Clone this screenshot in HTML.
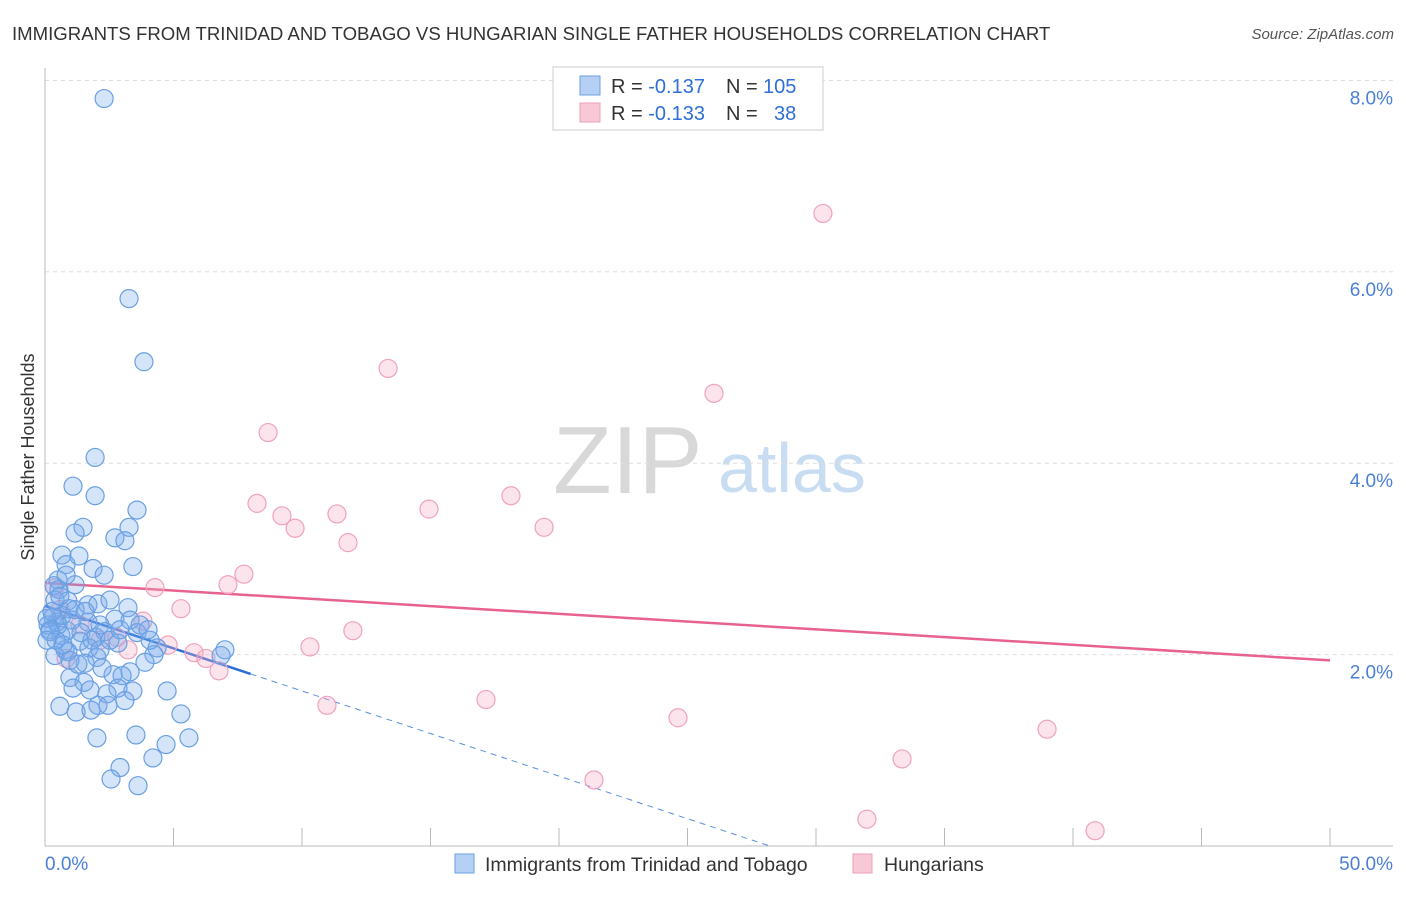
<!DOCTYPE html>
<html><head><meta charset="utf-8"><style>
body{margin:0;background:#fff;font-family:"Liberation Sans",sans-serif}
svg text{font-family:"Liberation Sans",sans-serif}
</style></head><body>
<svg id="chart" width="1406" height="892" viewBox="0 0 1406 892">
<text x="12" y="40" font-size="18.6" fill="#333">IMMIGRANTS FROM TRINIDAD AND TOBAGO VS HUNGARIAN SINGLE FATHER HOUSEHOLDS CORRELATION CHART</text>
<text x="1394" y="39" font-size="15" fill="#555" font-style="italic" text-anchor="end">Source: ZipAtlas.com</text>
<text x="34" y="457" font-size="18" fill="#333" text-anchor="middle" transform="rotate(-90 34 457)">Single Father Households</text>
<g>
<text x="553" y="493" font-size="96" fill="#d8d8d8" font-family="Liberation Serif">ZIP</text>
<text x="718" y="492" font-size="70" fill="#c8dcf2">atlas</text>
</g>
<g id="grid"></g><g id="axes"></g><g id="lines"></g><g id="dots"></g>
<g>
<rect x="553" y="67" width="270" height="63" fill="#fff" stroke="#ccc"/>
<rect x="580" y="76" width="20" height="19" fill="#b5d0f4" stroke="#6a9fe0"/>
<rect x="580" y="103" width="20" height="19" fill="#f9c8d6" stroke="#ef9fb8"/>
<text x="611" y="93" font-size="20" fill="#333">R = <tspan fill="#2f6fd8">-0.137</tspan></text>
<text x="726" y="93" font-size="20" fill="#333">N = <tspan fill="#2f6fd8" x="763">105</tspan></text>
<text x="611" y="120" font-size="20" fill="#333">R = <tspan fill="#2f6fd8">-0.133</tspan></text>
<text x="726" y="120" font-size="20" fill="#333">N = <tspan fill="#2f6fd8" x="774">38</tspan></text>
</g>
<g>
<rect x="455" y="854" width="19" height="19" fill="#b5d0f4" stroke="#6a9fe0"/>
<text x="485" y="871" font-size="19.5" fill="#333">Immigrants from Trinidad and Tobago</text>
<rect x="853" y="854" width="19" height="19" fill="#f9c8d6" stroke="#ef9fb8"/>
<text x="884" y="871" font-size="19.5" fill="#333">Hungarians</text>
</g>
</svg>
<script>
const blueX=[2.30,3.27,3.85,1.95,1.09,1.95,3.58,1.48,1.17,3.27,2.72,3.11,0.66,1.32,0.82,1.87,3.42,2.30,0.51,1.17,0.54,0.35,0.89,1.67,2.06,0.93,3.23,0.31,2.72,0.47,0.12,1.67,0.86,1.40,3.58,1.98,0.62,1.36,2.84,0.78,0.89,1.71,4.36,4.24,7.00,6.85,0.39,2.02,1.56,3.89,3.31,2.65,3.00,0.97,1.52,1.09,1.75,2.84,3.42,4.75,2.41,0.58,2.06,1.21,3.11,2.45,1.79,5.29,2.02,3.54,5.60,4.71,4.20,2.92,2.57,3.62,0.51,0.19,0.66,1.05,2.14,2.33,2.53,0.08,0.27,0.43,0.70,1.17,1.56,1.83,2.92,3.31,3.70,0.82,2.53,0.19,0.08,0.39,0.58,0.97,1.28,2.14,2.22,4.09,4.01];
const blueY=[7.81,5.72,5.06,4.06,3.76,3.66,3.51,3.33,3.27,3.33,3.22,3.19,3.04,3.03,2.94,2.90,2.92,2.83,2.78,2.73,2.68,2.72,2.56,2.52,2.53,2.48,2.49,2.39,2.37,2.34,2.31,2.34,2.25,2.23,2.23,2.18,2.20,2.14,2.12,2.05,2.03,2.07,2.07,2.00,2.05,1.99,1.99,1.97,1.91,1.92,1.82,1.79,1.78,1.76,1.71,1.65,1.63,1.65,1.62,1.62,1.59,1.46,1.47,1.40,1.52,1.47,1.42,1.38,1.13,1.16,1.13,1.06,0.92,0.82,0.70,0.63,2.31,2.26,2.41,2.36,2.31,2.24,2.15,2.38,2.45,2.15,2.10,2.47,2.45,2.15,2.26,2.36,2.31,2.83,2.57,2.24,2.15,2.57,2.61,1.94,1.90,2.05,1.86,2.15,2.26];
const pinkX=[30.27,13.35,26.03,8.68,18.13,8.25,9.22,14.94,11.36,9.73,19.42,11.79,7.74,7.12,4.28,0.39,5.29,3.81,11.98,2.80,10.31,4.79,5.80,3.23,6.26,6.77,0.82,2.14,10.97,17.16,24.63,38.99,33.35,21.36,31.98,40.86,0.58,1.36];
const pinkY=[6.61,4.99,4.73,4.32,3.66,3.58,3.45,3.52,3.47,3.32,3.33,3.17,2.84,2.73,2.70,2.70,2.48,2.35,2.25,2.18,2.08,2.10,2.02,2.05,1.96,1.83,1.96,2.15,1.47,1.53,1.34,1.22,0.91,0.69,0.28,0.16,2.47,2.31];
const yTicks=[2,4,6,8];
const yTickLabels=["2.0%","4.0%","6.0%","8.0%"];
const xTickLabels=["0.0%","50.0%"];
const blueTrend=[2.51,-0.089];
const pinkTrend=[2.75,-0.0162];
const blueSolidEnd=8.0;

const NS="http://www.w3.org/2000/svg";
const X=v=>45+v*25.7, Y=v=>846-v*95.7;
function mk(t,a,p){const e=document.createElementNS(NS,t);for(const k in a)e.setAttribute(k,a[k]);p.appendChild(e);return e;}
const grid=document.getElementById('grid'),axes=document.getElementById('axes'),lines=document.getElementById('lines'),dots=document.getElementById('dots');
yTicks.forEach((t,i)=>{
 const g=mk('line',{x1:45,x2:1393,y1:Y(t),y2:Y(t),stroke:'#ddd','stroke-dasharray':'4 4'},grid);
 
 
 const l=mk('text',{x:1393,y:Y(t)+24,'font-size':19,fill:'#4a7fd6','text-anchor':'end'},axes);
 l.textContent=yTickLabels[i];
 
 
});
const ax=mk('line',{x1:45,x2:45,y1:68,y2:846,stroke:'#bbb'},axes);


const bx=mk('line',{x1:45,x2:1393,y1:846,y2:846,stroke:'#bbb'},axes);


for(let i=1;i<=10;i++){
 const tk=mk('line',{x1:X(i*5),x2:X(i*5),y1:828,y2:846,stroke:'#bbb'},axes);
 
 
}
[[0,'start',45],[50,'end',1393]].forEach((d,i)=>{
 const t=mk('text',{x:d[2],y:870,'font-size':19,fill:'#4a7fd6','text-anchor':d[1]},axes);
 t.textContent=xTickLabels[i];
 
 
});
function dotsFor(xs,ys,fill,stroke,name){
 xs.forEach((x,i)=>{
  const c=mk('circle',{cx:X(x),cy:Y(ys[i]),r:9,fill:fill,stroke:stroke,'stroke-width':1.2},dots);
  
  
 });
}
dotsFor(pinkX,pinkY,'rgba(246,170,195,0.32)','#f0a2bb','hungarians-point');
dotsFor(blueX,blueY,'rgba(120,170,235,0.32)','#6a9fe2','trinidad-point');
const pl=mk('line',{x1:X(0),y1:Y(pinkTrend[0]),x2:X(50),y2:Y(pinkTrend[0]+pinkTrend[1]*50),stroke:'#e8628e','stroke-width':2.5},lines);


const bl=mk('line',{x1:X(0),y1:Y(blueTrend[0]),x2:X(blueSolidEnd),y2:Y(blueTrend[0]+blueTrend[1]*blueSolidEnd),stroke:'#2b6fd6','stroke-width':2.5},lines);


const xz=-blueTrend[0]/blueTrend[1];
const bd=mk('line',{x1:X(blueSolidEnd),y1:Y(blueTrend[0]+blueTrend[1]*blueSolidEnd),x2:X(xz),y2:Y(0),stroke:'#5b8fe0','stroke-width':1,'stroke-dasharray':'6 5'},lines);


</script>
</body></html>
